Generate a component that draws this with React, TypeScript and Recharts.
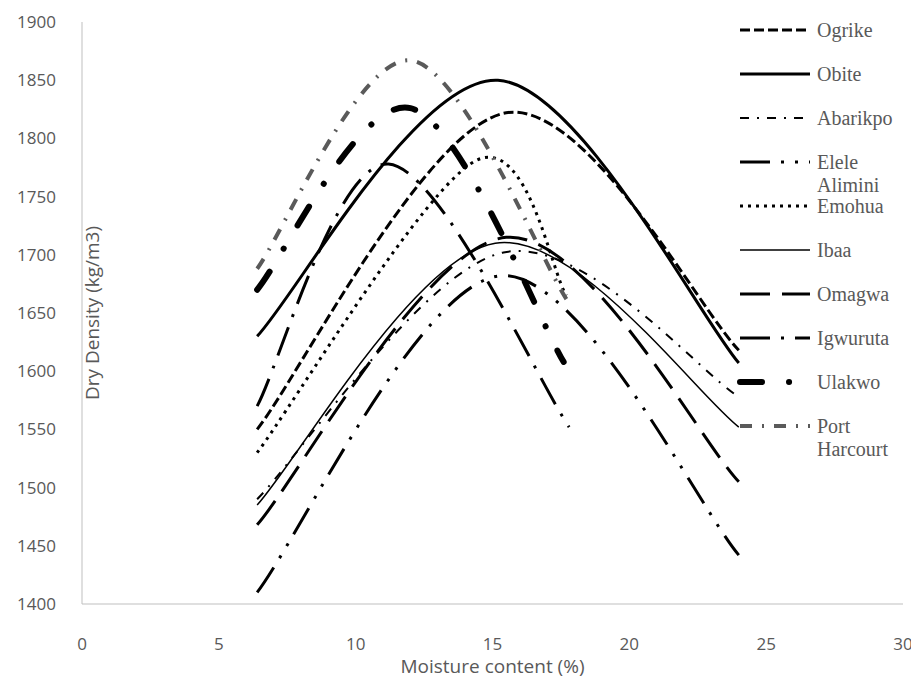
import React from 'react';
import { LineChart, Line, XAxis, YAxis } from 'recharts';

type Pt = { x: number; y: number };

// dry density vs moisture content
const ogrike: Pt[] = [{ x: 6.4, y: 1550 }, { x: 15.5, y: 1822 }, { x: 24, y: 1618 }];
const obite: Pt[] = [{ x: 6.4, y: 1630 }, { x: 15.2, y: 1850 }, { x: 24, y: 1607 }];
const abarikpo: Pt[] = [{ x: 6.4, y: 1490 }, { x: 15.4, y: 1702 }, { x: 24, y: 1578 }];
const eleleAlimini: Pt[] = [{ x: 6.4, y: 1410 }, { x: 15.3, y: 1682 }, { x: 24, y: 1442 }];
const emohua: Pt[] = [{ x: 6.4, y: 1530 }, { x: 14.4, y: 1781 }, { x: 17.7, y: 1665 }];
const ibaa: Pt[] = [{ x: 6.4, y: 1485 }, { x: 15.1, y: 1710 }, { x: 24, y: 1552 }];
const omagwa: Pt[] = [{ x: 6.4, y: 1468 }, { x: 15.5, y: 1715 }, { x: 24, y: 1505 }];
const igwuruta: Pt[] = [{ x: 6.4, y: 1570 }, { x: 11.2, y: 1778 }, { x: 17.8, y: 1552 }];
const ulakwo: Pt[] = [{ x: 6.4, y: 1670 }, { x: 12.0, y: 1826 }, { x: 17.6, y: 1608 }];
const portHarcourt: Pt[] = [{ x: 6.4, y: 1688 }, { x: 12.0, y: 1867 }, { x: 17.7, y: 1662 }];

const xTicks = [0, 5, 10, 15, 20, 25, 30];
const yTicks = [1400, 1450, 1500, 1550, 1600, 1650, 1700, 1750, 1800, 1850, 1900];

interface SeriesStyle {
  name: string;
  data: Pt[];
  color: string;
  width: number;
  dash?: string;
  cap?: 'butt' | 'round';
}

const series: SeriesStyle[] = [
  { name: 'Ogrike', data: ogrike, color: '#000', width: 3, dash: '10 4' },
  { name: 'Obite', data: obite, color: '#000', width: 3 },
  { name: 'Abarikpo', data: abarikpo, color: '#000', width: 2, dash: '9 8 2 8' },
  { name: 'Elele Alimini', data: eleleAlimini, color: '#000', width: 3, dash: '30 11 3 11 3 11' },
  { name: 'Emohua', data: emohua, color: '#000', width: 3, dash: '3 5' },
  { name: 'Ibaa', data: ibaa, color: '#000', width: 1.5 },
  { name: 'Omagwa', data: omagwa, color: '#000', width: 3, dash: '30 12' },
  { name: 'Igwuruta', data: igwuruta, color: '#000', width: 3, dash: '30 11 3 11' },
  { name: 'Ulakwo', data: ulakwo, color: '#000', width: 6, dash: '22 27 0.1 27', cap: 'round' },
  { name: 'Port Harcourt', data: portHarcourt, color: '#5a5a5a', width: 4, dash: '12 10 2 10' },
];

// Excel-like smoothed line (Catmull-Rom to cubic bezier), used as a d3 curve factory
function excelCurve(context: any) {
  let pts: number[][] = [];
  return {
    areaStart() {},
    areaEnd() {},
    lineStart() { pts = []; },
    point(x: number, y: number) { pts.push([+x, +y]); },
    lineEnd() {
      const n = pts.length;
      if (!n) return;
      context.moveTo(pts[0][0], pts[0][1]);
      for (let i = 0; i < n - 1; i++) {
        const p0 = pts[Math.max(i - 1, 0)];
        const p1 = pts[i];
        const p2 = pts[i + 1];
        const p3 = pts[Math.min(i + 2, n - 1)];
        context.bezierCurveTo(
          p1[0] + (p2[0] - p0[0]) / 6, p1[1] + (p2[1] - p0[1]) / 6,
          p2[0] - (p3[0] - p1[0]) / 6, p2[1] - (p3[1] - p1[1]) / 6,
          p2[0], p2[1],
        );
      }
    },
  };
}

const axisFont = { fill: '#595959', fontSize: 17, fontFamily: 'Open Sans' };

function LegendBox() {
  const rowGap = 44;
  return (
    <svg width={185} height={470} style={{ position: 'absolute', left: 724, top: 0 }}>
      {series.map((s, i) => {
        const y = 22 + i * rowGap;
        const words = s.name.split(' ');
        return (
          <g key={s.name}>
            <line
              x1={8} x2={78} y1={y} y2={y}
              stroke={s.color}
              strokeWidth={s.width}
              strokeDasharray={s.dash}
              strokeLinecap={s.cap ?? 'butt'}
            />
            {words.map((w, j) => (
              <text
                key={w}
                x={85}
                y={y + j * 23}
                dy="0.35em"
                fill="#595959"
                fontSize={20}
                fontFamily="Liberation Serif"
              >
                {w}
              </text>
            ))}
          </g>
        );
      })}
    </svg>
  );
}

export default function App() {
  return (
    <div style={{ position: 'relative', width: 911, height: 670 }}>
      <LineChart width={911} height={670} margin={{ top: 14, right: 16, bottom: 0, left: 0 }}>
        <XAxis
          type="number"
          dataKey="x"
          domain={[0, 30]}
          ticks={xTicks}
          tick={axisFont}
          tickSize={0}
          tickMargin={34}
          axisLine={{ stroke: '#bfbfbf' }}
          height={74}
          label={{
            value: 'Moisture content (%)',
            position: 'insideBottom',
            offset: 5,
            style: { fill: '#595959', fontSize: 19, fontFamily: 'Open Sans' },
          }}
        />
        <YAxis
          type="number"
          dataKey="y"
          domain={[1400, 1900]}
          ticks={yTicks}
          tick={axisFont}
          tickSize={0}
          tickMargin={26}
          axisLine={{ stroke: '#bfbfbf' }}
          width={74}
          label={{
            value: 'Dry Density (kg/m3)',
            angle: -90,
            position: 'insideLeft',
            offset: 84,
            style: { textAnchor: 'middle', fill: '#595959', fontSize: 19, fontFamily: 'Open Sans' },
          }}
        />
        {series.map(s => (
          <Line
            key={s.name}
            data={s.data}
            dataKey="y"
            name={s.name}
            type={excelCurve as any}
            stroke={s.color}
            strokeWidth={s.width}
            strokeDasharray={s.dash}
            strokeLinecap={s.cap ?? 'butt'}
            dot={false}
            activeDot={false}
            isAnimationActive={false}
          />
        ))}
      </LineChart>
      <LegendBox />
    </div>
  );
}
